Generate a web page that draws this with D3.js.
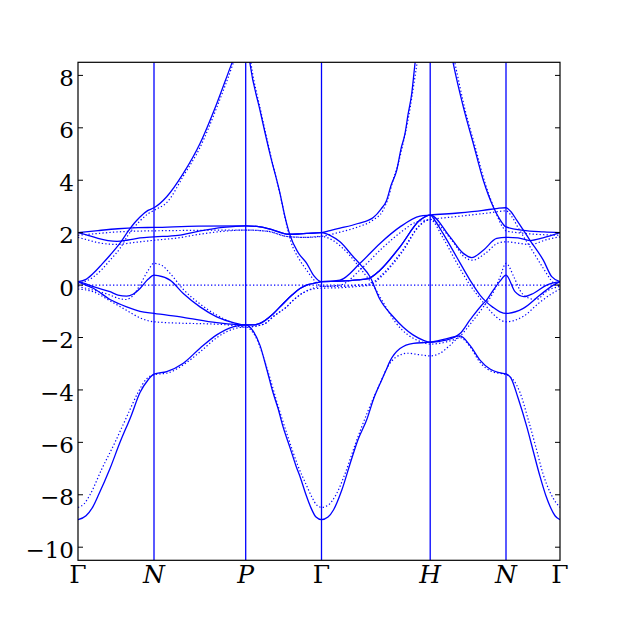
<!DOCTYPE html>
<html>
<head>
<meta charset="utf-8">
<script src="https://cdn.jsdelivr.net/npm/d3@7"></script>
<style>
  body { margin: 0; background: #fff; }
</style>
</head>
<body>
<script>
// band structure along G-N-P-G-H-N-G, solid = fit, dotted = reference

// high symmetry points (path distance) and their labels
var kTicks = [0, 76, 167.7, 243.5, 352.2, 428, 482];
var kLabels = ["Γ", "N", "P", "Γ", "H", "N", "Γ"];
var kItalic = [false, true, true, false, true, true, false];
var eTicks = [-10, -8, -6, -4, -2, 0, 2, 4, 6, 8];

// solid bands [k, E]
var solid1 = [[0,-8.95],[8,-8.8],[15,-8.45],[20,-8.05],[32,-7],[42,-6],[53,-5],[62,-4.1],[70,-3.62],[76,-3.4],
  [88.7,-3.3],[105.3,-2.98],[122,-2.41],[138.7,-1.9],[155,-1.59],[167.7,-1.52],
  [175,-1.75],[182,-2.3],[188.7,-3.2],[195,-4.1],[200,-4.7],[205,-5.4],[212,-6.2],[218,-6.9],[222,-7.3],[228,-8.0],[233,-8.5],[238,-8.85],[243.5,-8.95],
  [250,-8.85],[255.6,-8.57],[264,-7.8],[272.3,-6.79],[280,-5.9],[288.7,-5.14],[296,-4.3],[303.7,-3.62],[308,-3.25],[312,-2.9],[322,-2.42],[335.3,-2.22],[352.2,-2.18],
  [368,-2.05],[382,-1.94],[392,-2.3],[402,-2.86],[412,-3.2],[420,-3.33],[428,-3.39],
  [433,-3.55],[440,-4.3],[448.7,-5.39],[455,-6.3],[462,-7.3],[468,-8.05],[472,-8.44],[477,-8.8],[482,-8.95]];
var solid2 = [[0,0.13],[8,0.22],[15.3,0.45],[24,0.8],[32,1.14],[42,1.6],[50,2.05],[56,2.35],[62,2.6],[70,2.85],[76,2.95],
  [88.7,3.37],[105.3,4.26],[122,5.4],[138.7,6.92],[153.7,8.45],[167.7,9.8],
  [172,8.45],[182,6.67],[192,5.0],[202,3.5],[207,2.6],[212,1.9],[220,1.25],[228.7,0.83],[236,0.35],[243.5,0.13],
  [262,0.19],[282,0.83],[302,1.59],[322,2.22],[342,2.63],[352.2,2.67],
  [380,2.75],[405,2.85],[420,2.93],[428,2.95],
  [433,2.8],[438.7,2.48],[452,1.71],[465.3,0.95],[473.7,0.32],[482,0.13]];
var solid3 = [[0,2.0],[20,2.08],[40,2.15],[60,2.19],[76,2.2],[120,2.25],[167.7,2.26],
  [182,2.22],[195.3,2.1],[210.3,1.94],[220,1.95],[228.7,1.97],[243.5,2.0],
  [252,2.08],[262,2.17],[280,2.35],[295.3,2.58],[303,2.9],[308.7,3.24],[313,3.8],[318.7,4.38],[323,5.2],[327,5.78],[330,6.5],[333.7,7.3],[337,8.45],[352.2,11.5],
  [370,9.5],[375.3,8.45],[385.3,6.8],[395.3,5.4],[405.3,4.0],[415.3,2.98],[422,2.5],[428,2.22],
  [445,2.09],[466,2.03],[482,2.0]];
var solid4 = [[0,2.0],[10,1.9],[20,1.78],[30,1.7],[39,1.67],[50,1.72],[62,1.8],[76,1.84],
  [100,1.9],[120,2.05],[145,2.2],[167.7,2.26],
  [182,2.22],[195.3,2.1],[210.3,1.94],[220,1.95],[228.7,1.97],[243.5,2.0],
  [252,1.9],[262,1.65],[275.3,1.08],[282,0.8],[292,0.32],[302,-0.55],[315,-1.2],[325,-1.6],[335,-1.9],[345,-2.1],[352.2,-2.18],
  [368,-2.1],[382,-1.85],[392,-1.33],[405.3,-0.7],[408,-0.6],[415.3,-0.19],[422,0.15],[428,0.38],
  [437,-0.25],[446,-0.44],[455.3,-0.32],[468.7,0],[482,0.13]];
var solid5 = [[0,0.13],[8,0.05],[15.3,-0.06],[32,-0.25],[40,-0.38],[48.7,-0.42],[55,-0.35],[62,-0.13],[70,0.22],[76,0.38],
  [80,0.36],[92,0.19],[105.3,-0.32],[122,-0.83],[138.7,-1.21],[155.3,-1.43],[167.7,-1.52],
  [175,-1.52],[182,-1.46],[195,-1.1],[205.3,-0.7],[214,-0.38],[222,-0.13],[230,0.02],[238.7,0.09],[243.5,0.13],
  [262,0.15],[280,0.2],[290.3,0.25],[302,0.57],[322,1.46],[342,2.48],[352.2,2.67],
  [372,1.84],[385.3,1.21],[393.7,1.05],[405.3,1.33],[418.7,1.78],[428,1.82],
  [440,1.8],[452,1.7],[465,1.8],[482,2.0]];
var solid6 = [[0,0.13],[8,0.0],[15.3,-0.12],[32,-0.55],[48.7,-0.83],[62,-1.0],[76,-1.08],
  [105.3,-1.23],[138.7,-1.43],[167.7,-1.52],
  [175,-1.52],[182,-1.46],[195,-1.1],[205.3,-0.7],[214,-0.38],[222,-0.13],[230,0.02],[238.7,0.09],[243.5,0.13],
  [262,0.15],[280,0.2],[290.3,0.25],[302,0.57],[322,1.46],[342,2.48],[352.2,2.67],
  [358,2.4],[365,1.97],[378.5,1.08],[392,0.19],[402,-0.38],[408,-0.63],[415,-0.85],[422,-1.02],[428,-1.08],
  [445.3,-0.89],[462,-0.38],[475.3,0],[482,0.13]];

// dotted bands [k, E]
var dot1 = [[0,-8.48],[6,-8.35],[12,-8],[24,-7],[37,-6],[49,-5],[60,-4.1],[68,-3.6],[76,-3.42],
  [90,-3.35],[105,-3.05],[122,-2.55],[139,-2.0],[155,-1.68],[167.7,-1.6],
  [178,-2.0],[190,-3.3],[200,-4.6],[210,-5.8],[220,-6.9],[228,-7.6],[234,-8.1],[239,-8.4],[243.5,-8.48],
  [250,-8.4],[258,-8.0],[267,-7.2],[277,-6.1],[290,-4.8],[302,-3.75],[310,-3.1],[318,-2.75],[330,-2.6],[340,-2.65],[352.2,-2.7],
  [362,-2.6],[372,-2.3],[382,-2.0],[392,-2.35],[402,-2.95],[414,-3.3],[428,-3.42],
  [435,-3.6],[442,-4.1],[450,-5.1],[458,-6.2],[465,-7.2],[472,-7.9],[478,-8.3],[482,-8.48]];
var dot2 = [[0,0.05],[15,0.3],[24,0.6],[32,0.95],[42,1.4],[50,1.9],[56,2.2],[62,2.45],[70,2.72],[76,2.85],
  [90,3.2],[105,4.14],[122,5.25],[139,6.8],[155,8.45],[167.7,10],
  [173,8.45],[183,6.6],[193,4.9],[203,3.3],[208,2.4],[213,1.65],[221,1.0],[229,0.55],[237,0.15],[243.5,-0.05],
  [262,0.0],[284,0.65],[304,1.4],[324,2.05],[338,2.4],[352.2,2.5],
  [380,2.62],[410,2.75],[428,2.83],
  [434,2.6],[440,2.2],[453,1.4],[466,0.6],[475,0.1],[482,-0.05]];
var dot3 = [[0,1.9],[20,1.97],[40,2.03],[60,2.06],[76,2.07],[120,2.09],[167.7,2.1],
  [190,2.05],[210,1.85],[228,1.82],[243.5,1.86],
  [262,2.02],[280,2.22],[295,2.48],[305,2.85],[310,3.3],[315,4.0],[320,4.6],[325,5.4],[330,6.3],[334,7.2],[338,8.2],[352.2,11.5],
  [370,9.7],[377,8.45],[387,6.7],[397,5.3],[407,3.9],[417,2.85],[424,2.25],[428,2.07],
  [445,1.98],[466,1.92],[482,1.9]];
var dot4 = [[0,1.82],[10,1.72],[20,1.62],[39,1.55],[55,1.62],[76,1.71],
  [100,1.8],[120,1.93],[145,2.05],[167.7,2.1],
  [190,2.05],[210,1.85],[228,1.82],[243.5,1.86],
  [255,1.7],[265,1.4],[278,0.85],[285,0.5],[295,0.0],[305,-0.65],[318,-1.45],[330,-1.9],[342,-2.15],[352.2,-2.25],
  [370,-2.15],[382,-1.95],[392,-1.5],[405,-0.85],[415,-0.3],[422,0.3],[428,0.83],
  [436,0.3],[442,-0.2],[448,-0.45],[458,-0.55],[470,-0.2],[482,-0.05]];
var dot5 = [[0,-0.06],[8,-0.12],[16,-0.2],[30,-0.35],[40,-0.5],[48,-0.55],[55,-0.4],[62,0.0],[70,0.55],[76,0.83],
  [84,0.75],[92,0.45],[105,-0.15],[122,-0.72],[139,-1.15],[155,-1.45],[167.7,-1.6],
  [185,-1.5],[197,-1.15],[208,-0.85],[216,-0.55],[225,-0.3],[235,-0.12],[243.5,-0.05],
  [262,-0.05],[280,0.0],[292,0.05],[304,0.4],[324,1.3],[342,2.3],[352.2,2.5],
  [374,1.7],[387,1.05],[395,0.95],[407,1.2],[420,1.6],[428,1.65],
  [452,1.55],[470,1.75],[482,1.84]];
var dot6 = [[0,-0.15],[15,-0.25],[32,-0.6],[48,-0.95],[62,-1.25],[76,-1.4],
  [100,-1.45],[130,-1.48],[150,-1.52],[167.7,-1.6],
  [185,-1.5],[197,-1.15],[208,-0.85],[216,-0.55],[225,-0.3],[235,-0.15],[243.5,-0.12],
  [262,-0.1],[280,-0.05],[292,0.0],[304,0.35],[324,1.25],[342,2.28],[352.2,2.5],
  [365,1.8],[378,0.9],[392,0.0],[405,-0.65],[415,-1.1],[422,-1.32],[428,-1.4],
  [445,-1.2],[462,-0.65],[475,-0.3],[482,-0.15]];
var fermi = [[0,0],[482,0]];

var solidBands = [solid1, solid2, solid3, solid4, solid5, solid6];
var dottedBands = [dot1, dot2, dot3, dot4, dot5, dot6, fermi];

var fontFamily = "'DejaVu Serif', 'Liberation Serif', serif";

var margin = {top: 62.3, right: 63, bottom: 62.7, left: 78},
    width = 623 - margin.left - margin.right,
    height = 623 - margin.top - margin.bottom;

var svg = d3.select("body").append("svg")
  .attr("width", 623)
  .attr("height", 623)
  .append("g")
  .attr("transform", "translate(" + margin.left + "," + margin.top + ")");

var x = d3.scaleLinear().domain([0, 482]).range([0, width]);
var y = d3.scaleLinear().domain([-10.5, 8.5]).range([height, 0]);

svg.append("clipPath").attr("id", "clip")
  .append("rect").attr("width", width).attr("height", height);

var line = d3.line()
  .x(function(d) { return x(d[0]); })
  .y(function(d) { return y(d[1]); })
  .curve(d3.curveMonotoneX);

var plot = svg.append("g").attr("clip-path", "url(#clip)");

// vertical lines at the inner high symmetry points
plot.selectAll(".kline")
  .data(kTicks.slice(1, -1))
  .enter().append("line")
  .attr("x1", function(d) { return x(d); })
  .attr("x2", function(d) { return x(d); })
  .attr("y1", 0).attr("y2", height)
  .attr("stroke", "#0000ff").attr("stroke-width", 1.3);

plot.selectAll(".dotted")
  .data(dottedBands)
  .enter().append("path")
  .attr("d", line)
  .attr("fill", "none")
  .attr("stroke", "#0000ff")
  .attr("stroke-width", 1.2)
  .attr("stroke-dasharray", "1.3,2.2");

plot.selectAll(".band")
  .data(solidBands)
  .enter().append("path")
  .attr("d", line)
  .attr("fill", "none")
  .attr("stroke", "#0000ff")
  .attr("stroke-width", 1.3);

// frame
svg.append("rect")
  .attr("width", width).attr("height", height)
  .attr("fill", "none").attr("stroke", "#000").attr("stroke-width", 1.2);

// y ticks on both sides, pointing in
var yt = svg.append("g").selectAll("g").data(eTicks).enter().append("g");
yt.append("line").attr("x1", 0).attr("x2", 5)
  .attr("y1", function(d) { return y(d); }).attr("y2", function(d) { return y(d); })
  .attr("stroke", "#000");
yt.append("line").attr("x1", width - 5).attr("x2", width)
  .attr("y1", function(d) { return y(d); }).attr("y2", function(d) { return y(d); })
  .attr("stroke", "#000");
yt.append("text")
  .attr("x", -4)
  .attr("y", function(d) { return y(d); })
  .attr("dy", "0.46em")
  .attr("text-anchor", "end")
  .attr("font-family", fontFamily)
  .attr("font-size", 23)
  .attr("fill", "#000")
  .text(function(d) { return d < 0 ? "\u2212" + (-d) : d; });

svg.append("g").selectAll("text")
  .data(kTicks)
  .enter().append("text")
  .attr("x", function(d) { return x(d); })
  .attr("y", height + 23)
  .attr("text-anchor", "middle")
  .attr("font-family", fontFamily)
  .attr("font-size", 25)
  .attr("font-style", function(d, i) { return kItalic[i] ? "italic" : "normal"; })
  .attr("fill", "#000")
  .text(function(d, i) { return kLabels[i]; });
</script>
</body>
</html>
